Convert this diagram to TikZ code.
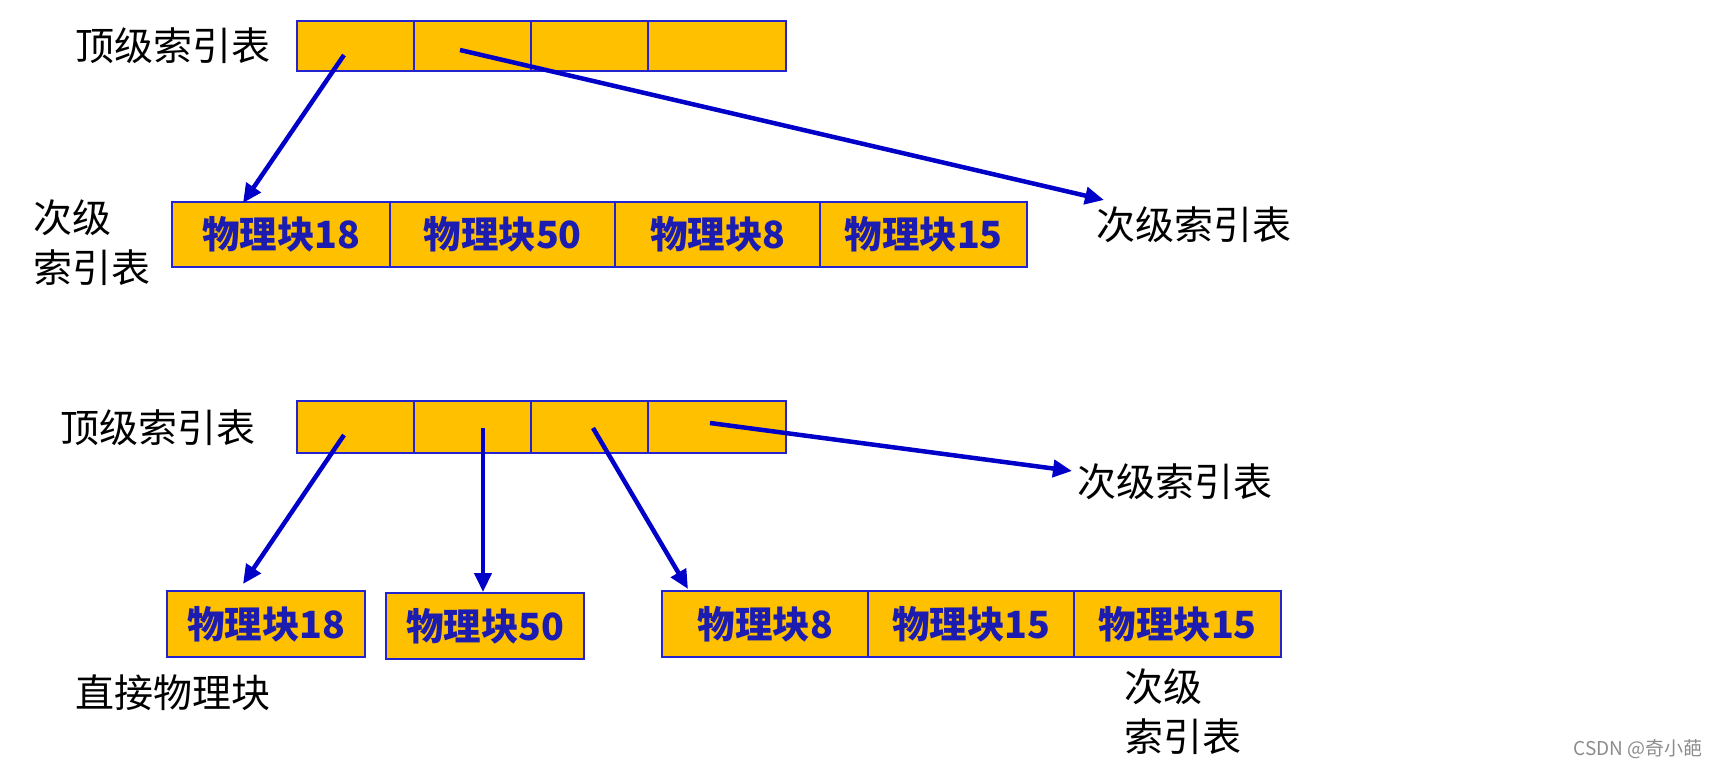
\documentclass[tikz,border=0pt]{standalone}
\usepackage{fontspec}
\newfontfamily\cjk{Noto Sans CJK SC}
\usetikzlibrary{arrows.meta}
\definecolor{boxfill}{HTML}{FFC000}
\definecolor{boxline}{HTML}{2323D2}
\definecolor{arrblue}{HTML}{0000C8}
\definecolor{txtblue}{HTML}{1C1CB0}
\tikzset{
  cell/.style={draw=boxline, fill=boxfill, line width=2.4pt, inner sep=0pt, anchor=north west,
    font=\cjk\bfseries\fontsize{37.5}{42}\selectfont, text=txtblue},
  lbl/.style={font=\cjk\fontsize{39}{50}\selectfont, text=black, inner sep=0pt, anchor=west, align=left},
  arr/.style={draw=arrblue, line width=4.5pt, -{Triangle[length=19pt,width=17pt]}},
}
\begin{document}
\begin{tikzpicture}[x=1pt,y=-1pt]
\useasboundingbox (0,0) rectangle (1719,767);

% ---------- top figure ----------
\node[lbl] (topA) at (75,46) {顶级索引表};
\node[cell, minimum width=117pt, minimum height=50pt] (a1) at (296,20) {};
\node[cell, minimum width=117pt, minimum height=50pt] (a2) at (413,20) {};
\node[cell, minimum width=117pt, minimum height=50pt] (a3) at (530,20) {};
\node[cell, minimum width=138pt, minimum height=50pt] (a4) at (647,20) {};

\node[cell, minimum width=218pt, minimum height=65pt] (b1) at (171,201) {物理块18};
\node[cell, minimum width=225pt, minimum height=65pt] (b2) at (389,201) {物理块50};
\node[cell, minimum width=205pt, minimum height=65pt] (b3) at (614,201) {物理块8};
\node[cell, minimum width=207pt, minimum height=65pt] (b4) at (819,201) {物理块15};

\node[lbl] (secA) at (33,243) {次级\\索引表};
\node[lbl] (secB) at (1096,225) {次级索引表};

\coordinate (sa1) at (344,55);
\coordinate (ea1) at (243,203);
\coordinate (sa2) at (460,50);
\coordinate (ea2) at (1104,200);
\draw[arr] (sa1) -- (ea1);
\draw[arr] (sa2) -- (ea2);

% ---------- bottom figure ----------
\node[lbl] (topB) at (60,428) {顶级索引表};
\node[cell, minimum width=117pt, minimum height=52pt] (c1) at (296,400) {};
\node[cell, minimum width=117pt, minimum height=52pt] (c2) at (413,400) {};
\node[cell, minimum width=117pt, minimum height=52pt] (c3) at (530,400) {};
\node[cell, minimum width=138pt, minimum height=52pt] (c4) at (647,400) {};

\node[cell, minimum width=198pt, minimum height=66pt] (d1) at (166,590) {物理块18};
\node[cell, minimum width=198pt, minimum height=66pt] (d2) at (385,592) {物理块50};
\node[cell, minimum width=206pt, minimum height=66pt] (d3) at (661,590) {物理块8};
\node[cell, minimum width=206pt, minimum height=66pt] (d4) at (867,590) {物理块15};
\node[cell, minimum width=207pt, minimum height=66pt] (d5) at (1073,590) {物理块15};

\node[lbl] (direct) at (75,693) {直接物理块};
\node[lbl] (secC) at (1077,482) {次级索引表};
\node[lbl] (secD) at (1124,712) {次级\\索引表};

\coordinate (sc1) at (344,435);
\coordinate (ec1) at (243,584);
\coordinate (sc2) at (483,428);
\coordinate (ec2) at (483,592);
\coordinate (sc3) at (593,428);
\coordinate (ec3) at (688,589);
\coordinate (sc4) at (710,423);
\coordinate (ec4) at (1072,471);
\draw[arr] (sc1) -- (ec1);
\draw[arr] (sc2) -- (ec2);
\draw[arr] (sc3) -- (ec3);
\draw[arr] (sc4) -- (ec4);

\node[font=\cjk\fontsize{19}{22}\selectfont, text=black!45, anchor=east, inner sep=0pt] (wm) at (1703,749) {CSDN @奇小葩};
\end{tikzpicture}
\end{document}
